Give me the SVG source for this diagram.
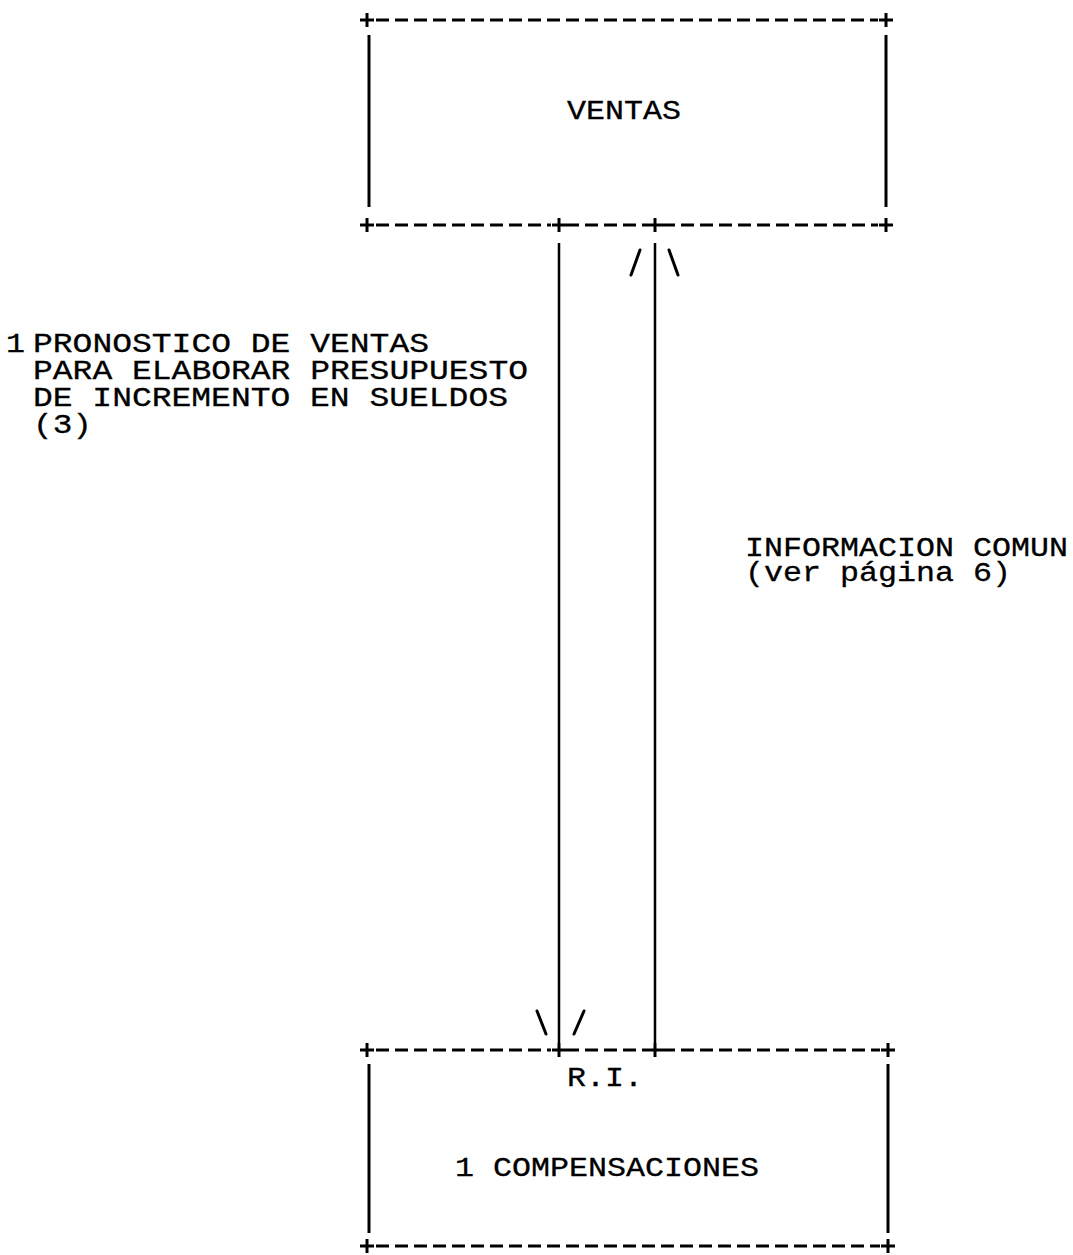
<svg xmlns="http://www.w3.org/2000/svg" width="1073" height="1255" viewBox="0 0 1073 1255">
<style>
.bg{fill:#ffffff}
.dash{stroke:#000;stroke-width:3;stroke-dasharray:13 6;fill:none}
.side{stroke:#000;stroke-width:3;fill:none}
.plus{stroke:#000;stroke-width:3;fill:none}
.conn{stroke:#000;stroke-width:2.5;fill:none}
.head{stroke:#000;stroke-width:3;fill:none;stroke-linecap:round}
text{font-family:"Liberation Mono","Courier New",monospace;fill:#000;stroke:#000;stroke-width:0.3;font-size:27px}
.c{font-size:28px}
</style>
<defs>
<path id="plus" d="M-7,0 H7 M0,-7 V7"/>
</defs>
<rect class="bg" x="0" y="0" width="1073" height="1255"/>

<g id="node-ventas">
<line class="dash" x1="376" y1="20" x2="878" y2="20"/>
<line class="dash" x1="376" y1="225" x2="551" y2="225"/>
<line class="dash" x1="566" y1="225" x2="648" y2="225"/>
<line class="dash" x1="662" y1="225" x2="878" y2="225"/>
<line class="side" x1="369" y1="35" x2="369" y2="207"/>
<line class="side" x1="886" y1="35" x2="886" y2="207"/>
<use href="#plus" class="plus" x="367" y="20"/>
<use href="#plus" class="plus" x="886" y="20"/>
<use href="#plus" class="plus" x="367" y="225"/>
<use href="#plus" class="plus" x="559" y="225"/>
<use href="#plus" class="plus" x="655" y="225"/>
<use href="#plus" class="plus" x="886" y="225"/>
<text x="567" y="119" textLength="114" lengthAdjust="spacingAndGlyphs">VENTAS</text>
</g>

<g id="node-compensaciones">
<line class="dash" x1="376" y1="1050" x2="551" y2="1050"/>
<line class="dash" x1="566" y1="1050" x2="648" y2="1050"/>
<line class="dash" x1="662" y1="1050" x2="880" y2="1050"/>
<line class="dash" x1="376" y1="1246" x2="880" y2="1246"/>
<line class="side" x1="369" y1="1064" x2="369" y2="1233"/>
<line class="side" x1="888" y1="1064" x2="888" y2="1233"/>
<use href="#plus" class="plus" x="367" y="1050"/>
<use href="#plus" class="plus" x="559" y="1050"/>
<use href="#plus" class="plus" x="655" y="1050"/>
<use href="#plus" class="plus" x="888" y="1050"/>
<use href="#plus" class="plus" x="367" y="1246"/>
<use href="#plus" class="plus" x="888" y="1246"/>
<text x="567" y="1086" textLength="76" lengthAdjust="spacingAndGlyphs">R.I.</text>
<text class="c" x="455" y="1176" textLength="304" lengthAdjust="spacingAndGlyphs">1 COMPENSACIONES</text>
</g>

<g id="connectors">
<line class="conn" x1="559" y1="243" x2="559" y2="1043"/>
<line class="conn" x1="655" y1="243" x2="655" y2="1043"/>
<line class="head" x1="631" y1="275" x2="640" y2="250"/>
<line class="head" x1="669" y1="250" x2="678" y2="275"/>
<line class="head" x1="537" y1="1011" x2="546" y2="1034"/>
<line class="head" x1="574" y1="1034" x2="584" y2="1011"/>
</g>

<g id="label-pronostico">
<text x="6" y="352" textLength="19" lengthAdjust="spacingAndGlyphs">1</text>
<text x="33" y="352" textLength="396" lengthAdjust="spacingAndGlyphs">PRONOSTICO DE VENTAS</text>
<text x="33" y="379" textLength="495" lengthAdjust="spacingAndGlyphs">PARA ELABORAR PRESUPUESTO</text>
<text x="33" y="406" textLength="475" lengthAdjust="spacingAndGlyphs">DE INCREMENTO EN SUELDOS</text>
<text x="33" y="433" textLength="59" lengthAdjust="spacingAndGlyphs">(3)</text>
</g>

<g id="label-informacion">
<text x="745" y="556" textLength="323" lengthAdjust="spacingAndGlyphs">INFORMACION COMUN</text>
<text x="745" y="581" textLength="266" lengthAdjust="spacingAndGlyphs">(ver página 6)</text>
</g>
</svg>
